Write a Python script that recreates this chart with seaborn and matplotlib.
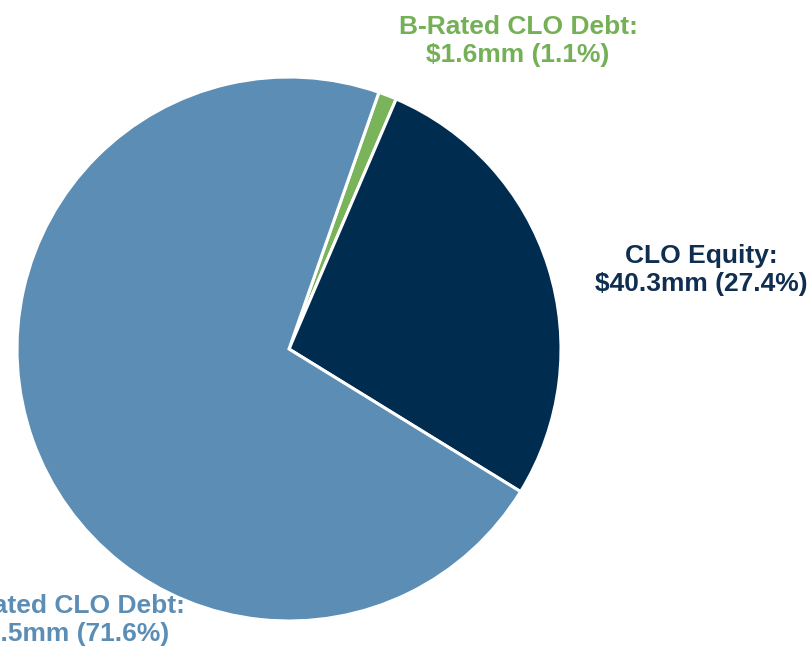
import matplotlib
matplotlib.use('Agg')
import matplotlib.pyplot as plt
import seaborn as sns

# slice data (clockwise from the top)
segments = ['B-Rated CLO Debt', 'CLO Equity', 'BB-Rated CLO Debt']
amounts = [1.6, 40.3, 105.5]          # $mm
shares = [1.1, 27.4, 71.6]            # % as printed
slice_colors = ['#79b35a', '#002c50', '#5b8db5']
label_colors = ['#74b055', '#0f2e50', '#5b8db5']

sns.set_theme(style='white')
plt.rcParams['font.family'] = ['Liberation Sans', 'DejaVu Sans']

fig = plt.figure(figsize=(8.12, 6.47), dpi=100)
# axes sized so the pie sits where it does in the reference
ax = fig.add_axes([17 / 812, 26 / 647, 544 / 812, 544 / 647])
ax.pie(amounts, colors=slice_colors, startangle=70.7, counterclock=False,
       radius=1, wedgeprops={'edgecolor': 'white', 'linewidth': 2.2})
ax.set_xlim(-1, 1)
ax.set_ylim(-1, 1)
ax.set_aspect('equal')
ax.axis('off')

# label positions in data units around the pie
label_pos = [(0.842, 1.132), (1.515, 0.290), (-0.857, -0.996)]
for name, amt, pct, col, (x, y) in zip(segments, amounts, shares, label_colors, label_pos):
    ax.text(x, y, f'{name}:\n${amt:.1f}mm ({pct:.1f}%)', ha='center', va='center',
            multialignment='center', fontsize=19, fontweight='bold', color=col,
            linespacing=1.2, clip_on=False)

fig.savefig('out.png', dpi=100)
